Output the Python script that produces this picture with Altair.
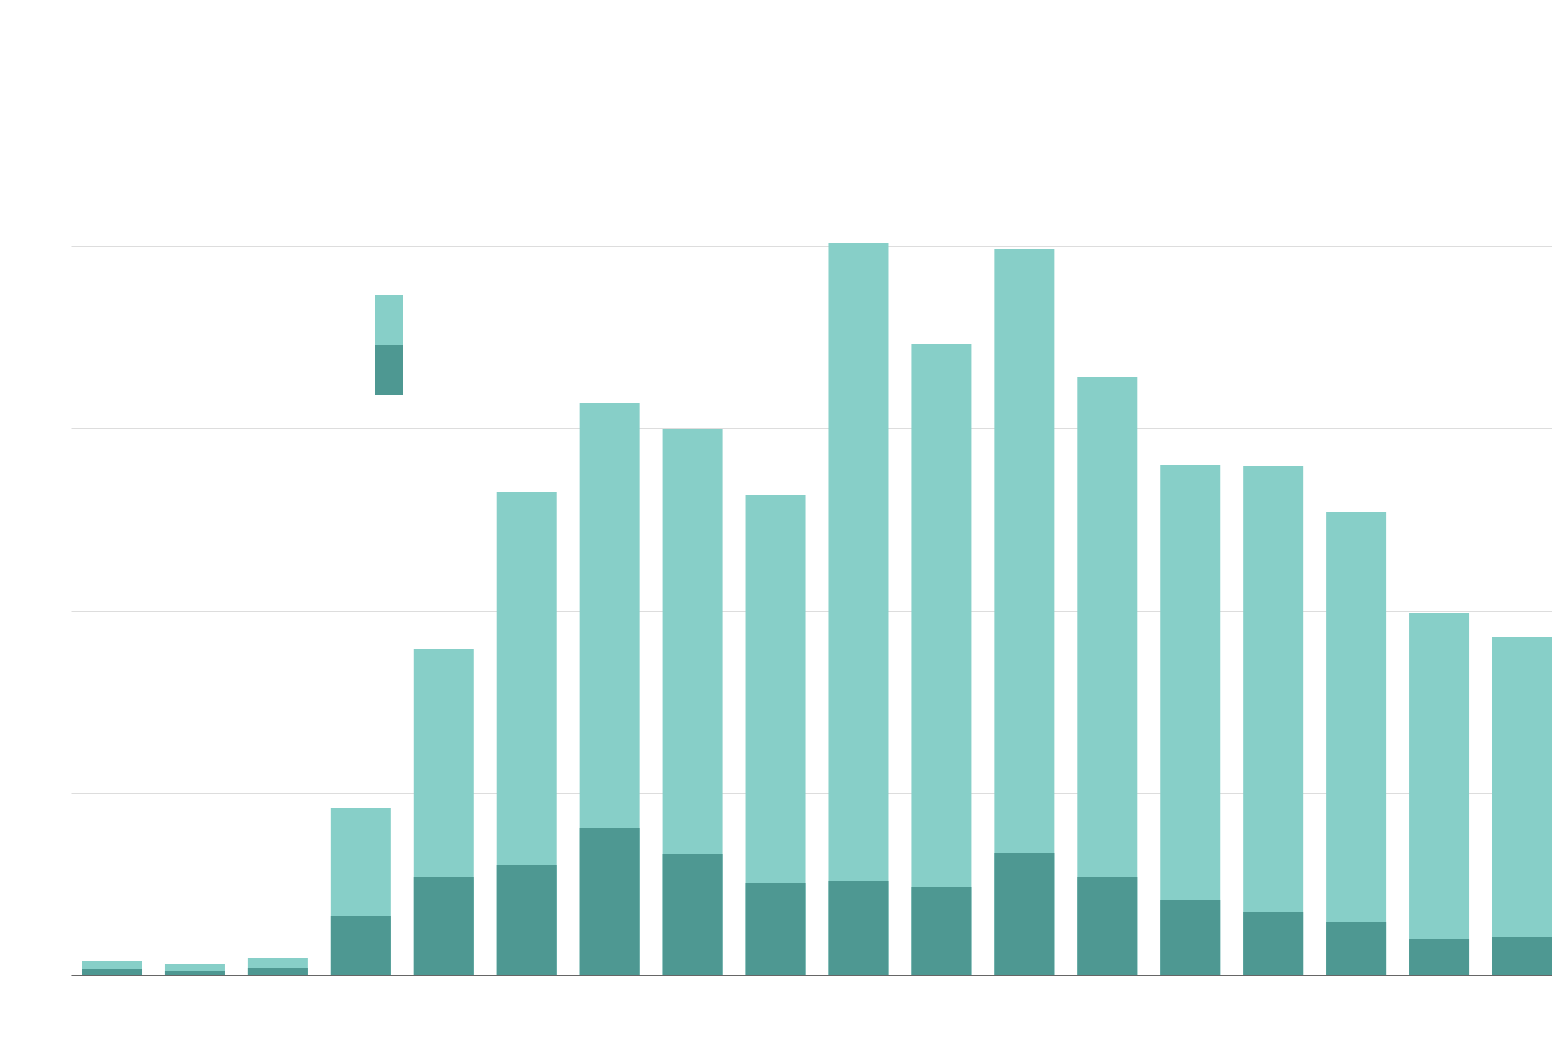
import altair as alt
import pandas as pd

# Category labels (not legible in the reference: its text is white on white)
categories = [str(i) for i in range(1, 19)]
# Full bar heights (light teal) and lower part (dark teal), in gridline units of 100
totals = [7.7, 6.0, 9.3, 91.6, 178.9, 265.0, 313.9, 299.6, 263.4,
          401.6, 346.2, 398.4, 328.1, 279.8, 279.3, 254.0, 198.6, 185.5]
darks = [3.3, 2.2, 3.8, 32.4, 53.8, 60.4, 80.7, 66.4, 50.5,
         51.6, 48.3, 66.9, 53.8, 41.2, 34.6, 29.1, 19.8, 20.9]
series_names = ["Total", "Part"]
series_colors = ["#87cfc8", "#4e9892"]
y_ticks = [0, 100, 200, 300, 400]

rows = []
for c, t in zip(categories, totals):
    rows.append({"category": c, "series": series_names[0], "value": t, "z": 0})
for c, d in zip(categories, darks):
    rows.append({"category": c, "series": series_names[1], "value": d, "z": 1})
df = pd.DataFrame(rows)

chart = alt.Chart(df).mark_bar(opacity=1).encode(
    x=alt.X("category:N", sort=categories, title=None,
            scale=alt.Scale(paddingInner=0.2766, paddingOuter=0.0664, align=1),
            axis=alt.Axis(labelColor="white", labelAngle=0, ticks=False,
                          domainColor="#666666", domainWidth=1, labelPadding=10,
                          labelFontSize=14, grid=False)),
    y=alt.Y("value:Q", stack=None, title=None,
            scale=alt.Scale(domain=[0, 400], nice=False),
            axis=alt.Axis(values=y_ticks, labelColor="white", domain=False,
                          ticks=False, gridColor="#dddddd", gridWidth=1,
                          labelFontSize=14)),
    color=alt.Color("series:N", title=None,
                    scale=alt.Scale(domain=series_names, range=series_colors),
                    legend=alt.Legend(orient="none", legendX=304, legendY=49,
                                      symbolType="M-1,-1.7857H1V1.7857H-1Z",
                                      symbolSize=784, symbolStrokeWidth=0,
                                      symbolOpacity=1, rowPadding=0, padding=0,
                                      clipHeight=50, labelColor="white",
                                      labelFontSize=14)),
    order=alt.Order("z:Q"),
).properties(
    width=1481,
    height=729,
    padding={"left": 63, "top": 238, "right": 0, "bottom": 60},
    autosize=alt.AutoSizeParams(type="none"),
).configure(background="white").configure_view(stroke=None, strokeWidth=0)

chart.save("out.html", embed_options={"renderer": "svg", "actions": False})
